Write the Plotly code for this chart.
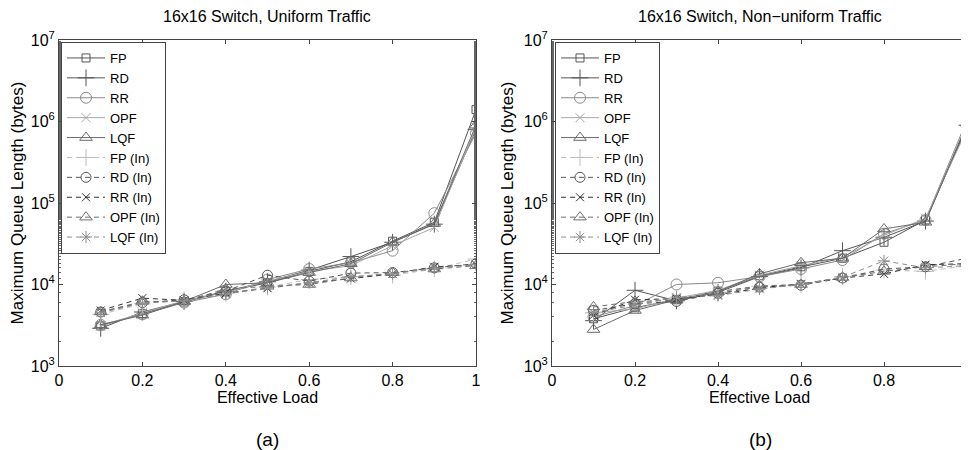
import plotly.graph_objects as go

loads = [0.1, 0.2, 0.3, 0.4, 0.5, 0.6, 0.7, 0.8, 0.9, 1.0]
x_ticks = [0, 0.2, 0.4, 0.6, 0.8, 1.0]
x_ticktext = ["0", "0.2", "0.4", "0.6", "0.8", "1"]
y_ticks = [1e3, 1e4, 1e5, 1e6, 1e7]
y_ticktext = ["10<sup>3</sup>", "10<sup>4</sup>", "10<sup>5</sup>", "10<sup>6</sup>", "10<sup>7</sup>"]

series_names = ["FP", "RD", "RR", "OPF", "LQF", "FP (In)", "RD (In)", "RR (In)", "OPF (In)", "LQF (In)"]

# (a) Uniform traffic
FP_a = [3100, 4400, 6100, 8200, 10500, 14500, 19000, 34000, 58000, 1400000]
RD_a = [2900, 4600, 6200, 8300, 10800, 15000, 22000, 33000, 55000, 800000]
RR_a = [3200, 4300, 6000, 7600, 11500, 15500, 18500, 26000, 75000, 720000]
OPF_a = [3100, 4500, 6300, 8000, 11000, 14500, 17000, 30000, 50000, 850000]
LQF_a = [3200, 4200, 6200, 10000, 10500, 14000, 18000, 33000, 56000, 900000]
FP_In_a = [4300, 5800, 6500, 7800, 9300, 11500, 12500, 13000, 15500, 20500]
RD_In_a = [4600, 6000, 6500, 8300, 13000, 11000, 13800, 14000, 16000, 18000]
RR_In_a = [4800, 6800, 6400, 7800, 9000, 10500, 11800, 13500, 16500, 17500]
OPF_In_a = [4600, 6200, 6200, 8800, 9500, 10000, 12000, 14000, 15500, 17000]
LQF_In_a = [4500, 5900, 6300, 7600, 9200, 10500, 12500, 13500, 16000, 17500]

# (b) Non-uniform traffic
FP_b = [3800, 5200, 6500, 8300, 12800, 16500, 21000, 33000, 62000, 850000]
RD_b = [3600, 8500, 6300, 8000, 12500, 16000, 26000, 38000, 60000, 900000]
RR_b = [4000, 5500, 10000, 10500, 12500, 15500, 20000, 42000, 62000, 1050000]
OPF_b = [4500, 5000, 6800, 8500, 13000, 17000, 21500, 40000, 65000, 800000]
LQF_b = [2800, 4800, 6500, 8200, 13500, 18500, 21000, 48000, 58000, 950000]
FP_In_b = [4500, 6000, 6800, 8000, 9500, 10000, 12500, 15000, 14500, 17000]
RD_In_b = [4800, 5800, 6200, 7800, 9300, 9800, 12000, 15500, 16500, 21000]
RR_In_b = [4200, 6500, 6700, 7500, 9000, 10200, 12000, 13500, 17500, 18000]
OPF_In_b = [5300, 6200, 6400, 8200, 9600, 10000, 12200, 14500, 16500, 18000]
LQF_In_b = [4500, 5600, 7000, 7300, 8800, 10000, 12300, 19500, 16000, 17000]

data_a = [FP_a, RD_a, RR_a, OPF_a, LQF_a, FP_In_a, RD_In_a, RR_In_a, OPF_In_a, LQF_In_a]
data_b = [FP_b, RD_b, RR_b, OPF_b, LQF_b, FP_In_b, RD_In_b, RR_In_b, OPF_In_b, LQF_In_b]

styles = [
    dict(color="#555555", symbol="square-open", dash="solid", size=8),
    dict(color="#555555", symbol="cross-thin-open", dash="solid", size=12),
    dict(color="#8a8a8a", symbol="circle-open", dash="solid", size=11),
    dict(color="#a8a8a8", symbol="x-thin-open", dash="solid", size=9),
    dict(color="#6a6a6a", symbol="triangle-up-open", dash="solid", size=11),
    dict(color="#bdbdbd", symbol="cross-thin-open", dash="5px,4px", size=12),
    dict(color="#555555", symbol="circle-open", dash="5px,4px", size=10),
    dict(color="#333333", symbol="x-thin-open", dash="5px,4px", size=8),
    dict(color="#6e6e6e", symbol="triangle-up-open", dash="5px,4px", size=11),
    dict(color="#8e8e8e", symbol="asterisk-open", dash="5px,4px", size=10),
]

FONT = "Liberation Sans, Arial, sans-serif"

W, H = 961, 442  # page has an 8px body margin; figure fills the rest of the window


def px(x):
    return x / W


def py(y):
    return (H - y) / H


fig = go.Figure()
for (data, xa, ya, leg) in [(data_a, "x", "y", "legend"), (data_b, "x2", "y2", "legend2")]:
    for name, vals, st in zip(series_names, data, styles):
        fig.add_trace(go.Scatter(
            x=loads, y=vals, name=name, mode="lines+markers",
            xaxis=xa, yaxis=ya, legend=leg,
            line=dict(color=st["color"], width=1, dash=st["dash"]),
            marker=dict(symbol=st["symbol"], size=st["size"], color=st["color"],
                        line=dict(color=st["color"], width=1)),
        ))

ydom = [py(358), py(32)]
common_x = dict(range=[0, 1], tickvals=x_ticks, ticktext=x_ticktext, ticks="inside", ticklen=4,
                showline=True, linecolor="#444444", linewidth=1, mirror="ticks", showgrid=False,
                zeroline=False, automargin=False, ticklabeloverflow="allow",
                tickfont=dict(family=FONT, size=16, color="black"),
                title=dict(text="Effective Load", font=dict(family=FONT, size=16, color="black"), standoff=1),
                tickcolor="#444444")
common_y = dict(type="log", range=[3, 7], tickvals=y_ticks, ticktext=y_ticktext, ticks="inside", ticklen=4,
                showline=True, linecolor="#444444", linewidth=1, mirror="ticks", showgrid=False,
                zeroline=False, automargin=False, ticklabeloverflow="allow",
                tickfont=dict(family=FONT, size=16, color="black"),
                title=dict(text="Maximum Queue Length (bytes)", font=dict(family=FONT, size=17, color="black"), standoff=5),
                tickcolor="#444444",
                minor=dict(ticks="inside", ticklen=2, tickcolor="#666666", showgrid=False))

fig.update_layout(
    width=W, height=H,
    margin=dict(l=0, r=0, t=0, b=0),
    paper_bgcolor="white", plot_bgcolor="white",
    font=dict(family=FONT, size=16, color="black"),
    xaxis=dict(domain=[px(51), px(468)], anchor="y", **common_x),
    yaxis=dict(domain=ydom, anchor="x", **common_y),
    xaxis2=dict(domain=[px(544), px(959)], anchor="y2", **common_x),
    yaxis2=dict(domain=ydom, anchor="x2", **common_y),
    legend=dict(x=px(53), y=py(34), xanchor="left", yanchor="top",
                bgcolor="white", bordercolor="#444444", borderwidth=1, itemwidth=38,
                font=dict(family=FONT, size=13, color="black"), tracegroupgap=0),
    legend2=dict(x=px(547), y=py(34), xanchor="left", yanchor="top",
                 bgcolor="white", bordercolor="#444444", borderwidth=1, itemwidth=38,
                 font=dict(family=FONT, size=13, color="black"), tracegroupgap=0),
    showlegend=True,
    annotations=[
        dict(text="16x16 Switch, Uniform Traffic", x=px(259), y=py(8), xref="paper", yref="paper",
             xanchor="center", yanchor="middle", showarrow=False, font=dict(family=FONT, size=16, color="black")),
        dict(text="16x16 Switch, Non\u2212uniform Traffic", x=px(752), y=py(8), xref="paper", yref="paper",
             xanchor="center", yanchor="middle", showarrow=False, font=dict(family=FONT, size=16, color="black")),
        dict(text="(a)", x=px(259), y=py(431), xref="paper", yref="paper",
             xanchor="center", yanchor="middle", showarrow=False, font=dict(family=FONT, size=19, color="black")),
        dict(text="(b)", x=px(752), y=py(431), xref="paper", yref="paper",
             xanchor="center", yanchor="middle", showarrow=False, font=dict(family=FONT, size=19, color="black")),
    ],
)

fig.write_html("out.html")
